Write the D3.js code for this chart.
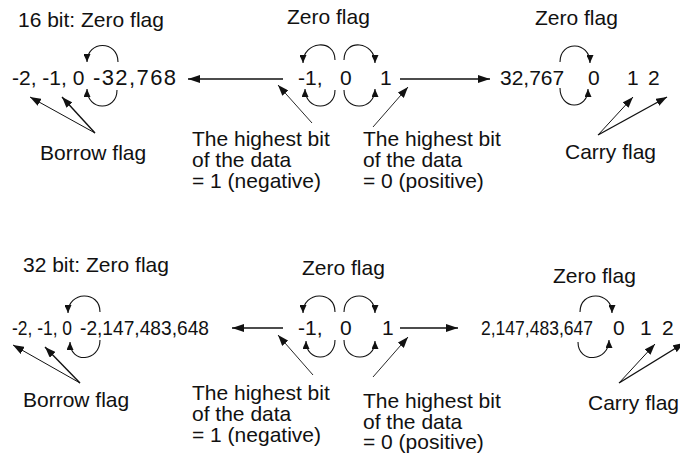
<!DOCTYPE html>
<meta charset="utf-8">
<style>
body { margin: 0; background: #fff; }
text { font-family: "Liberation Sans", Arial, sans-serif; font-size: 21px; fill: #111; }
.narrow { font-family: "Liberation Sans Narrow", "Arial Narrow", "Liberation Sans", sans-serif; }
.wide { font-size: 22px; letter-spacing: 1.4px; }
.ln { stroke: #111; fill: none; }
</style>
<body>
<script src="https://cdn.jsdelivr.net/npm/d3@7"></script>
<script>

// the two word sizes and their range limits
var sections = ["16 bit", "32 bit"];
var minValues = ["-32,768", "-2,147,483,648"];
var maxValues = ["32,767", "2,147,483,647"];
var belowZero = "-2, -1, 0";
var aroundZero = ["-1,", "0", "1"];
var aboveZero = ["0", "1", "2"];
var flagNames = ["Zero flag", "Borrow flag", "Carry flag"];
var noteNegative = ["The highest bit", "of the data", "= 1 (negative)"];
var notePositive = ["The highest bit", "of the data", "= 0 (positive)"];

// layout of each block (pixel positions in the picture)
var layout = [
  { title: [18, 27], midFlag: [287, 24], rightFlag: [535, 25], row: 85, axis: 79,
    below: [12, null], min: [93, null], mid: [298, 340, 380], max: [500, null], above: [588, 627, 648],
    narrow: false,
    leftArrow: [283, 188], rightArrow: [400, 490],
    loops: [[118, 62, 87, 62, -1], [117, 90, 87, 89, 1],
            [335, 60, 303, 63, -1], [344, 60, 375, 63, -1], [335, 90, 305, 89, 1], [344, 90, 375, 89, 1],
            [560, 62, 590, 63, -1], [560, 88, 588, 89, 1]],
    borrow: [40, 160, 95, 133, [[30, 97], [62, 97]]],
    carry: [565, 159, 598, 135, [[633, 97], [667, 97]]],
    noteL: [192, 146, 312, 123, 278, 85, 21], noteR: [363, 146, 373, 127, 408, 87, 21] },
  { title: [23, 272], midFlag: [302, 275], rightFlag: [553, 283], row: 335, axis: 328,
    below: [12, 60], min: [80, 129], mid: [298, 340, 382], max: [481, 112], above: [613, 640, 662],
    narrow: true,
    leftArrow: [283, 232], rightArrow: [400, 458],
    loops: [[100, 312, 68, 313, -1], [100, 340, 70, 342, 1],
            [335, 312, 303, 313, -1], [344, 312, 375, 313, -1], [335, 340, 306, 341, 1], [344, 340, 375, 341, 1],
            [580, 312, 612, 313, -1], [578, 342, 609, 340, 1]],
    borrow: [23, 407, 80, 383, [[13, 345], [45, 347]]],
    carry: [588, 410, 619, 383, [[655, 344], [684, 343]]],
    noteL: [192, 400, 313, 375, 278, 335, 21], noteR: [363, 408, 373, 377, 408, 337, 20.5] }
];

var svg = d3.select("body").append("svg")
    .attr("width", 680)
    .attr("height", 454);

// arrowheads
var defs = svg.append("defs");
function marker(id, len, wid) {
  defs.append("marker")
      .attr("id", id)
      .attr("markerUnits", "userSpaceOnUse")
      .attr("viewBox", "0 0 " + len + " " + wid)
      .attr("refX", len).attr("refY", wid / 2)
      .attr("markerWidth", len).attr("markerHeight", wid)
      .attr("orient", "auto")
    .append("path")
      .attr("d", "M0,0L" + len + "," + (wid / 2) + "L0," + wid + "Z")
      .attr("fill", "#111");
}
marker("big", 12, 8);
marker("mid", 11, 8);
marker("small", 8, 7);

function txt(g, s, x, y, len, cls) {
  var t = g.append("text").attr("x", x).attr("y", y).text(s);
  if (len) t.attr("textLength", len).attr("lengthAdjust", "spacingAndGlyphs");
  if (cls) t.attr("class", cls);
  return t;
}

layout.forEach(function(L, i) {
  var g = svg.append("g");
  var nc = L.narrow ? "narrow" : null;

  txt(g, sections[i] + ": " + flagNames[0], L.title[0], L.title[1]);
  txt(g, flagNames[0], L.midFlag[0], L.midFlag[1]);
  txt(g, flagNames[0], L.rightFlag[0], L.rightFlag[1]);

  // number row
  txt(g, belowZero, L.below[0], L.row, L.below[1], nc);
  txt(g, minValues[i], L.min[0], L.row, L.min[1], nc || "wide");
  aroundZero.forEach(function(s, k) { txt(g, s, L.mid[k], L.row); });
  txt(g, maxValues[i], L.max[0], L.row, L.max[1], nc);
  aboveZero.forEach(function(s, k) { txt(g, s, L.above[k], L.row); });

  // long arrows
  g.append("line").attr("class", "ln").attr("stroke-width", 1.6)
      .attr("x1", L.leftArrow[0]).attr("y1", L.axis).attr("x2", L.leftArrow[1]).attr("y2", L.axis)
      .attr("marker-end", "url(#big)");
  g.append("line").attr("class", "ln").attr("stroke-width", 1.6)
      .attr("x1", L.rightArrow[0]).attr("y1", L.axis).attr("x2", L.rightArrow[1]).attr("y2", L.axis)
      .attr("marker-end", "url(#big)");

  // wrap-around loops
  L.loops.forEach(function(c) {
    var h = 22 * c[4];
    var p = d3.path();
    p.moveTo(c[0], c[1]);
    p.bezierCurveTo(c[0], c[1] + h, c[2], c[3] + h, c[2], c[3]);
    g.append("path").attr("class", "ln").attr("stroke-width", 1.1)
        .attr("d", p.toString())
        .attr("marker-end", "url(#small)");
  });

  // borrow / carry flags
  [[L.borrow, flagNames[1]], [L.carry, flagNames[2]]].forEach(function(f) {
    var b = f[0];
    txt(g, f[1], b[0], b[1]);
    b[4].forEach(function(pt, k) {
      g.append("line").attr("class", "ln").attr("stroke-width", k ? 1.4 : 1)
          .attr("x1", b[2]).attr("y1", b[3]).attr("x2", pt[0]).attr("y2", pt[1])
          .attr("marker-end", "url(#mid)");
    });
  });

  // notes on the highest bit
  [[L.noteL, noteNegative], [L.noteR, notePositive]].forEach(function(n) {
    var a = n[0];
    n[1].forEach(function(s, k) { txt(g, s, a[0], a[1] + k * a[6]); });
    g.append("line").attr("class", "ln").attr("stroke-width", 0.9)
        .attr("x1", a[2]).attr("y1", a[3]).attr("x2", a[4]).attr("y2", a[5])
        .attr("marker-end", "url(#mid)");
  });
});

</script>
</body>
